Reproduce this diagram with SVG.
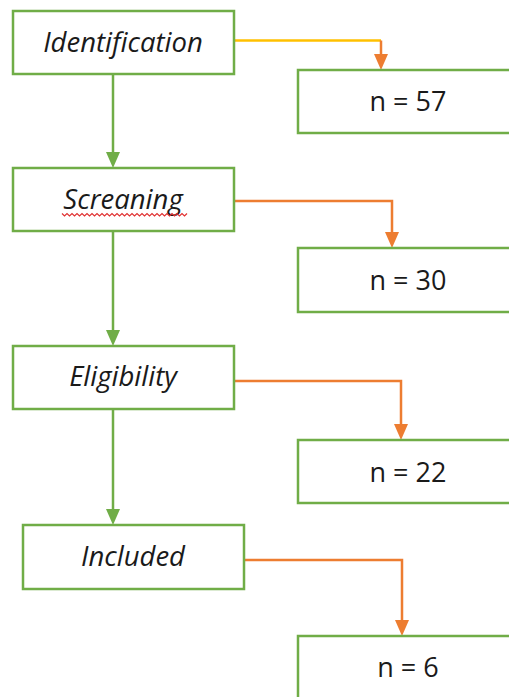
<svg xmlns="http://www.w3.org/2000/svg" width="509" height="697" viewBox="0 0 509 697">
<style>
.box{fill:#fff;stroke:#70AD47;stroke-width:2.5}
.lbl{font-family:"Open Sans","Liberation Sans",sans-serif;font-style:italic;font-size:27.5px;fill:#1a1a1a;text-anchor:middle}
.num{font-family:"Open Sans","Liberation Sans",sans-serif;font-size:27px;fill:#1a1a1a;text-anchor:middle}
.g{fill:none;stroke:#70AD47;stroke-width:2.5}
.o{fill:none;stroke:#ED7D31;stroke-width:2.5}
.y{fill:none;stroke:#FFC000;stroke-width:2.5}
</style>
<rect width="509" height="697" fill="#fff"/>
<g id="connectors">
<path class="g" d="M113,74 V154"/><path d="M106,152 H120 L113,168 Z" fill="#70AD47"/>
<path class="g" d="M113,231 V332"/><path d="M106,330 H120 L113,346 Z" fill="#70AD47"/>
<path class="g" d="M113,409 V511"/><path d="M106,509 H120 L113,525 Z" fill="#70AD47"/>
<path class="y" d="M234,40.5 H381"/><path class="o" d="M381,40.5 V56"/><path d="M374,54 H388 L381,70 Z" fill="#ED7D31"/>
<path class="o" d="M234,201 H392 V234"/><path d="M385,232 H399 L392,248 Z" fill="#ED7D31"/>
<path class="o" d="M234,381 H401 V426"/><path d="M394,424 H408 L401,440 Z" fill="#ED7D31"/>
<path class="o" d="M244,560 H402 V622"/><path d="M395,620 H409 L402,636 Z" fill="#ED7D31"/>
</g>
<g id="identification"><rect class="box" x="13" y="11" width="221" height="63"/><text class="lbl" x="123" y="52">Identification</text></g>
<g id="screaning"><rect class="box" x="13" y="168" width="221" height="63"/><text class="lbl" x="123" y="209">Screaning</text>
<path d="M62,213.5 l2.5,2.5 l2.5,-2.5 l2.5,2.5 l2.5,-2.5 l2.5,2.5 l2.5,-2.5 l2.5,2.5 l2.5,-2.5 l2.5,2.5 l2.5,-2.5 l2.5,2.5 l2.5,-2.5 l2.5,2.5 l2.5,-2.5 l2.5,2.5 l2.5,-2.5 l2.5,2.5 l2.5,-2.5 l2.5,2.5 l2.5,-2.5 l2.5,2.5 l2.5,-2.5 l2.5,2.5 l2.5,-2.5 l2.5,2.5 l2.5,-2.5 l2.5,2.5 l2.5,-2.5 l2.5,2.5 l2.5,-2.5 l2.5,2.5 l2.5,-2.5 l2.5,2.5 l2.5,-2.5 l2.5,2.5 l2.5,-2.5 l2.5,2.5 l2.5,-2.5 l2.5,2.5 l2.5,-2.5 l2.5,2.5 l2.5,-2.5 l2.5,2.5 l2.5,-2.5 l2.5,2.5 l2.5,-2.5 l2.5,2.5 l2.5,-2.5 l2.5,2.5 l2.5,-2.5" fill="none" stroke="#E03030" stroke-width="1.2"/></g>
<g id="eligibility"><rect class="box" x="13" y="346" width="221" height="63"/><text class="lbl" x="123" y="386">Eligibility</text></g>
<g id="included"><rect class="box" x="23" y="525" width="221" height="64"/><text class="lbl" x="133" y="566">Included</text></g>
<g id="n57"><rect class="box" x="298" y="70" width="230" height="63"/><text class="num" x="408" y="111">n = 57</text></g>
<g id="n30"><rect class="box" x="298" y="248" width="230" height="64"/><text class="num" x="408" y="290">n = 30</text></g>
<g id="n22"><rect class="box" x="298" y="440" width="230" height="63"/><text class="num" x="408" y="482">n = 22</text></g>
<g id="n6"><rect class="box" x="298" y="636" width="230" height="80"/><text class="num" x="408" y="677">n = 6</text></g>
</svg>
